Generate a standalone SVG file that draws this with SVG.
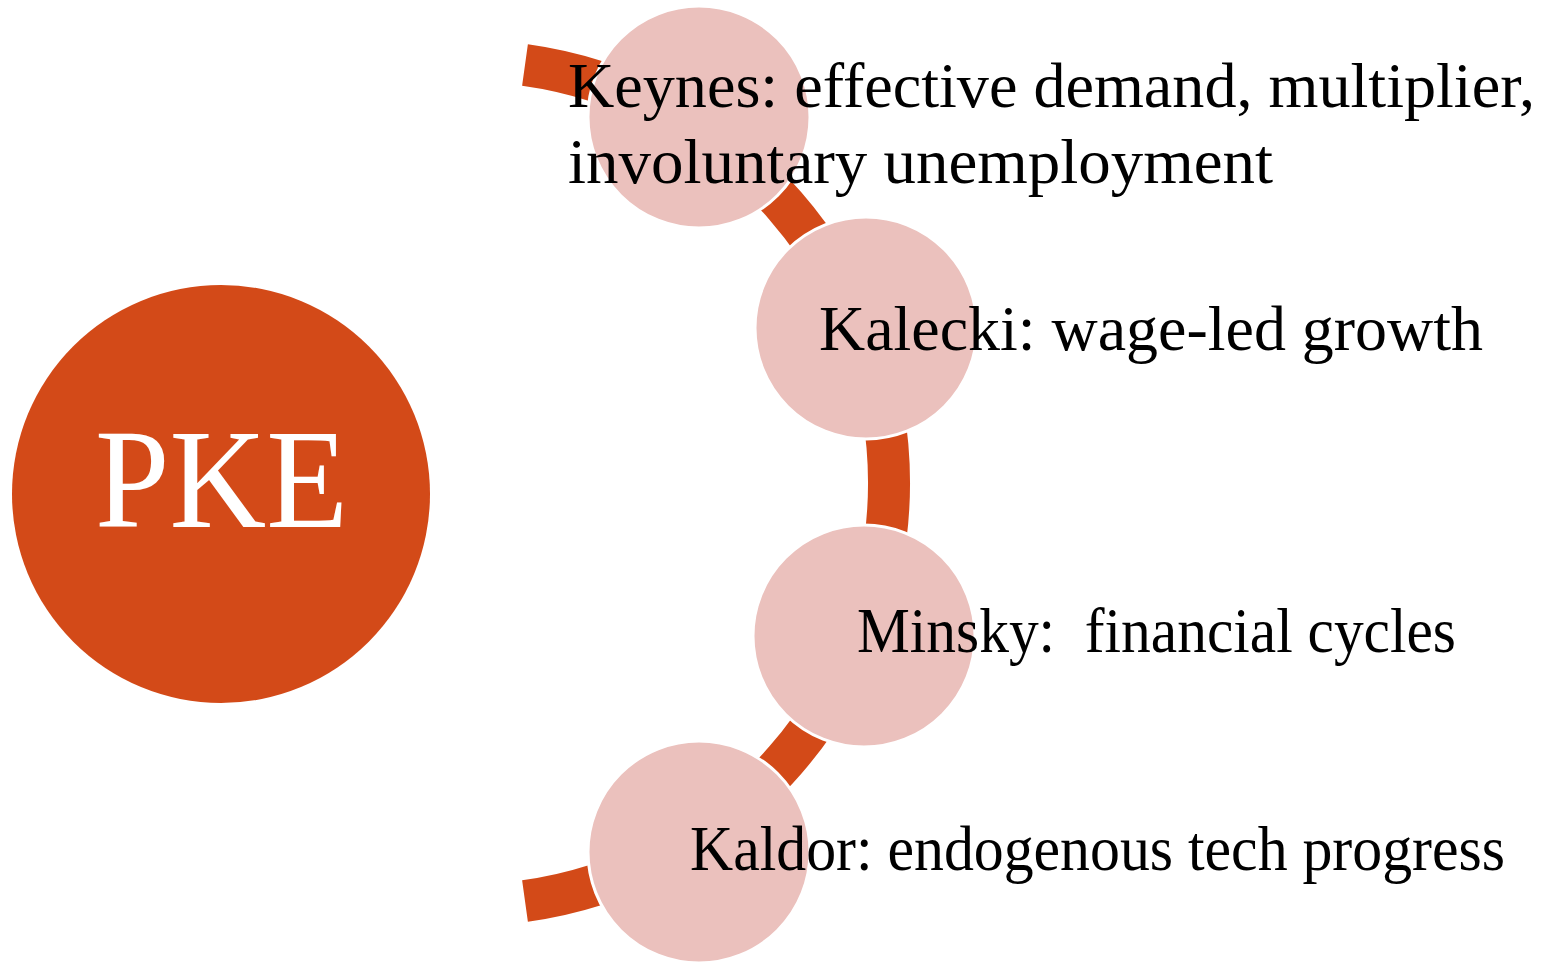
<svg xmlns="http://www.w3.org/2000/svg" width="1543" height="964" viewBox="0 0 1543 964">
<style>
.lbl{font-family:"Liberation Serif","Times New Roman",serif;font-size:63px;fill:#000;white-space:pre}
.sat{fill:#EBC1BD;stroke:#FFFFFF;stroke-width:3}
.arc{fill:none;stroke:#D34A18;stroke-width:42;stroke-linecap:butt}
</style>
<rect width="1543" height="964" fill="#FFFFFF"/>
<g id="connectors">
<path class="arc" d="M 525 65 A 422 422 0 0 1 525 901"/>
</g>
<g id="pke">
<circle cx="221" cy="494" r="209" fill="#D34A18"/>
<text x="95" y="527" font-family="Liberation Serif, Times New Roman, serif" font-size="142" fill="#FFFFFF" textLength="253" lengthAdjust="spacingAndGlyphs">PKE</text>
</g>
<g id="keynes">
<circle class="sat" cx="699" cy="117" r="111"/>
<text class="lbl" x="568" y="107" textLength="967" lengthAdjust="spacingAndGlyphs">Keynes: effective demand, multiplier,</text>
<text class="lbl" x="568" y="183" textLength="705" lengthAdjust="spacingAndGlyphs">involuntary unemployment</text>
</g>
<g id="kalecki">
<circle class="sat" cx="866" cy="328" r="111"/>
<text class="lbl" x="819" y="350" textLength="664" lengthAdjust="spacingAndGlyphs">Kalecki: wage-led growth</text>
</g>
<g id="minsky">
<circle class="sat" cx="864" cy="636" r="111"/>
<text class="lbl" x="857" y="652" textLength="599" lengthAdjust="spacingAndGlyphs" xml:space="preserve">Minsky:  financial cycles</text>
</g>
<g id="kaldor">
<circle class="sat" cx="699" cy="852" r="111"/>
<text class="lbl" x="690" y="870" textLength="815" lengthAdjust="spacingAndGlyphs">Kaldor: endogenous tech progress</text>
</g>
</svg>
